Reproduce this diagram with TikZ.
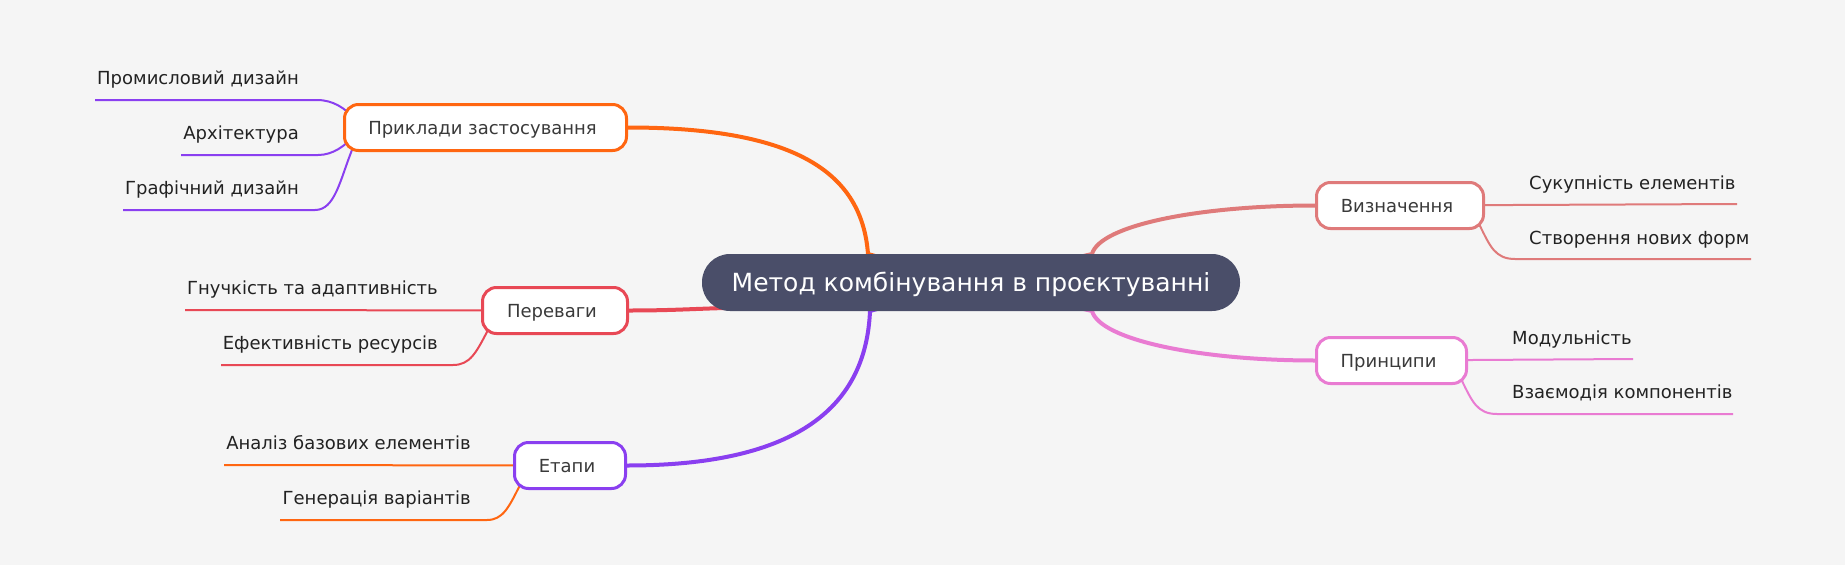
\documentclass[tikz,border=0pt]{standalone}
\usepackage{fontspec}
\setmainfont{DejaVu Sans}
\definecolor{bgc}{HTML}{F5F5F5}
\definecolor{rootc}{HTML}{4A4E69}
\definecolor{orc}{HTML}{FF6611}
\definecolor{rdc}{HTML}{E84855}
\definecolor{puc}{HTML}{8A3FF0}
\definecolor{sac}{HTML}{DF7A7A}
\definecolor{pkc}{HTML}{E97BD2}
\definecolor{ntext}{HTML}{3A3A3A}
\definecolor{ltext}{HTML}{222222}
\pgfdeclarelayer{background}
\pgfsetlayers{background,main}
\tikzset{
 branchbox/.style={draw, fill=white, line width=3pt, rounded corners=14pt, minimum height=46pt, text=ntext, font=\fontsize{18}{21}\selectfont, text height=13.5pt, text depth=0pt, inner sep=0pt, execute at begin node=\kern-6pt},
 rootbox/.style={fill=rootc, rounded corners=28pt, minimum width=538pt, minimum height=57pt, text=white, font=\fontsize{25}{29}\selectfont, text height=18pt, text depth=1pt, inner sep=0pt},
 leaftext/.style={text=ltext, font=\fontsize{18}{21}\selectfont, inner sep=0pt},
 mainline/.style={line width=4pt},
 leafline/.style={line width=2pt},
}
\begin{document}
\begin{tikzpicture}[x=1pt,y=-1pt]
\useasboundingbox (0,0) rectangle (1845,565);
% nodes
\node[rootbox] (root) at (971,282.5) {Метод комбінування в проєктуванні};
\node[branchbox, draw=orc, minimum width=282pt] (ex) at (485.5,127.5) {Приклади застосування};
\node[branchbox, draw=rdc, minimum width=145pt] (adv) at (555,310.5) {Переваги};
\node[branchbox, draw=puc, minimum width=111pt] (stg) at (570,465.5) {Етапи};
\node[branchbox, draw=sac, minimum width=167pt] (def) at (1400,205.5) {Визначення};
\node[branchbox, draw=pkc, minimum width=150pt] (prn) at (1391.5,360.5) {Принципи};
% leaves
\node[leaftext, anchor=base east] (l11) at (299,84) {Промисловий дизайн};
\node[leaftext, anchor=base east] (l12) at (299,139) {Архітектура};
\node[leaftext, anchor=base east] (l13) at (299,194) {Графічний дизайн};
\node[leaftext, anchor=base east] (l21) at (438,294) {Гнучкість та адаптивність};
\node[leaftext, anchor=base east] (l22) at (438,349) {Ефективність ресурсів};
\node[leaftext, anchor=base east] (l31) at (471,449) {Аналіз базових елементів};
\node[leaftext, anchor=base east] (l32) at (471,504) {Генерація варіантів};
\node[leaftext, anchor=base west] (l41) at (1529,189) {Сукупність елементів};
\node[leaftext, anchor=base west] (l42) at (1529,244) {Створення нових форм};
\node[leaftext, anchor=base west] (l51) at (1512,344) {Модульність};
\node[leaftext, anchor=base west] (l52) at (1512,398) {Взаємодія компонентів};
% line end points
\coordinate (u11) at (95,100);
\coordinate (u12) at (181,155);
\coordinate (u13) at (123,210);
\coordinate (u21) at (185,310);
\coordinate (u22) at (221,365);
\coordinate (u31) at (224,465);
\coordinate (u32) at (280,520);
\coordinate (u41) at (1737,204);
\coordinate (u42) at (1751,259);
\coordinate (u51) at (1633,359);
\coordinate (u52) at (1733,414);
\begin{pgfonlayer}{background}
\fill[bgc] (0,0) rectangle (1845,565);
% main connectors
\draw[mainline, orc] (ex.center) -- (ex.east) .. controls (800,127.5) and (862,175) .. (868,254) -- (root.center);
\draw[mainline, rdc] (adv.center) -- (adv.east) .. controls (670,310.5) and (690,309) .. (725,308) -- (root.center);
\draw[mainline, puc] (stg.center) -- (stg.east) .. controls (800,465.5) and (866,405) .. (870,311) -- (root.center);
\draw[mainline, sac] (def.center) -- (def.west) .. controls (1200,205.5) and (1100,225) .. (1092,254) -- (root.center);
\draw[mainline, pkc] (prn.center) -- (prn.west) .. controls (1200,360.5) and (1100,340) .. (1092,311) -- (root.center);
% leaf connectors
\draw[leafline, puc] (u11) -- (317,100) .. controls (333,100) and (345,108) .. (356,120) -- (ex.center);
\draw[leafline, puc] (u12) -- (318,155) .. controls (333,155) and (345,146) .. (356,134) -- (ex.center);
\draw[leafline, puc] (u13) -- (315,210) .. controls (335,210) and (340,180) .. (352,150) -- (ex.center);
\draw[leafline, rdc] (u21) -- (adv.center);
\draw[leafline, rdc] (u22) -- (453,365) .. controls (470,365) and (476,353) .. (488,330) -- (adv.center);
\draw[leafline, orc] (u31) -- (stg.center);
\draw[leafline, orc] (u32) -- (487,520) .. controls (503,520) and (509,507) .. (520,485) -- (stg.center);
\draw[leafline, sac] (def.center) -- (u41);
\draw[leafline, sac] (def.center) -- (1480,226) .. controls (1490,246) and (1495,259) .. (1515,259) -- (u42);
\draw[leafline, pkc] (prn.center) -- (u51);
\draw[leafline, pkc] (prn.center) -- (1462,381) .. controls (1472,401) and (1477,414) .. (1497,414) -- (u52);
\end{pgfonlayer}
\end{tikzpicture}
\end{document}
